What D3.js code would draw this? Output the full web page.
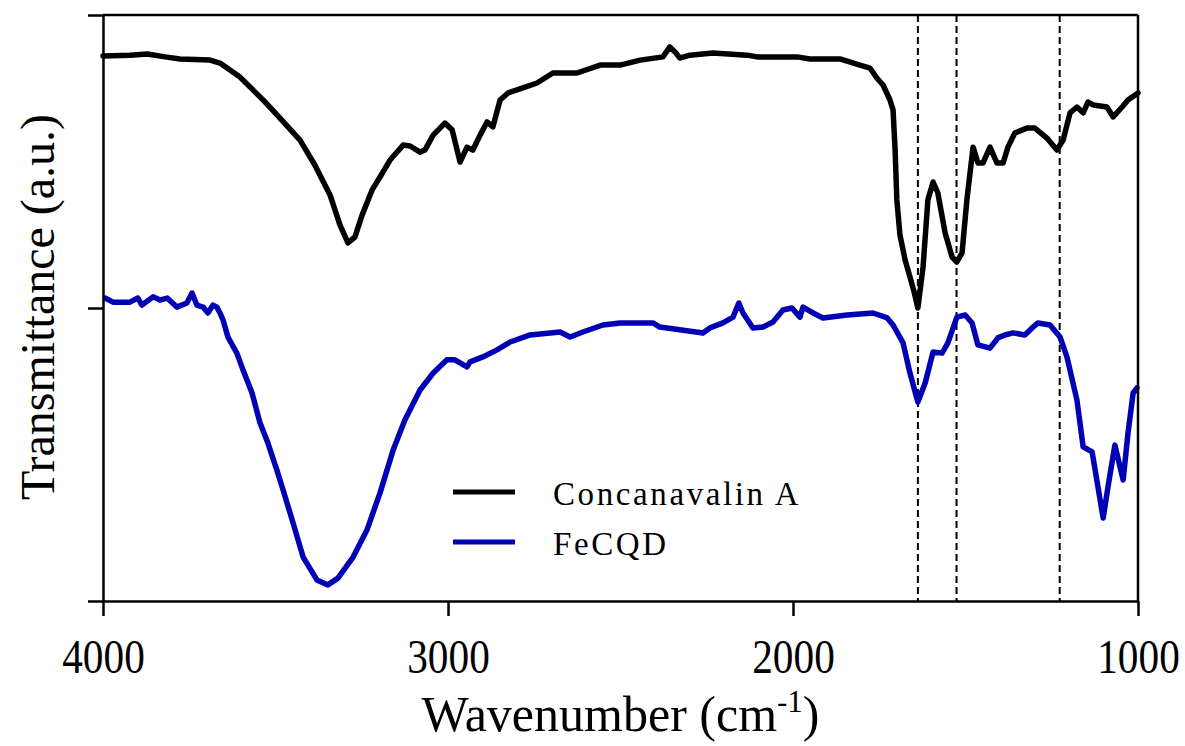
<!DOCTYPE html>
<html>
<head>
<meta charset="utf-8">
<script src="https://cdn.jsdelivr.net/npm/d3@7"></script>
<style>
  body { margin: 0; background: #fff; }
  text { font-family: "Liberation Serif", "Times New Roman", serif; fill: #000; }
</style>
</head>
<body>
<div id="chart"></div>
<script>
/********** Data **********/
// Concanavalin A (wavenumber, offset transmittance)
var conWn = [4000,3922,3872,3820,3777,3690,3661,3603,3536,3487,3429,3386,3342,3313,3290,3270,3249,3220,3197,3168,
  3130,3110,3081,3067,3043,3009,2988,2965,2945,2928,2907,2887,2870,2849,2826,2783,2742,2696,2626,2559,
  2501,2443,2377,2357,2342,2328,2299,2232,2133,2104,1988,1951,1864,1806,1777,1757,1739,1719,1710,1704,
  1699,1690,1675,1661,1649,1638,1623,1609,1594,1580,1559,1539,1525,1510,1496,1478,1464,1449,1429,1409,
  1391,1377,1357,1322,1299,1264,1235,1217,1197,1177,1159,1145,1130,1090,1072,1046,1029,1000]
var conT = [1.860,1.863,1.867,1.857,1.850,1.846,1.836,1.788,1.710,1.648,1.573,1.488,1.386,1.283,1.222,1.242,1.317,1.403,1.447,1.505,
  1.556,1.553,1.532,1.539,1.590,1.631,1.608,1.498,1.549,1.539,1.590,1.635,1.618,1.710,1.734,1.751,1.768,1.802,1.802,1.829,
  1.829,1.846,1.857,1.891,1.874,1.853,1.863,1.870,1.863,1.857,1.857,1.850,1.850,1.829,1.819,1.785,1.761,1.710,1.676,1.539,
  1.369,1.249,1.164,1.106,1.055,1.000,1.140,1.369,1.430,1.392,1.256,1.174,1.157,1.188,1.369,1.549,1.495,1.495,1.549,1.495,
  1.495,1.549,1.597,1.614,1.614,1.580,1.539,1.573,1.666,1.686,1.666,1.703,1.693,1.686,1.652,1.686,1.710,1.734]

// FeCQD
var feWn = [3994,3971,3922,3899,3887,3855,3835,3814,3786,3757,3742,3728,3710,3696,3681,3670,3661,3652,3638,3612,
  3594,3568,3545,3522,3496,3478,3449,3420,3380,3348,3319,3275,3235,3197,3159,3125,3081,3043,3003,2980,
  2945,2936,2899,2858,2820,2762,2675,2646,2609,2551,2501,2406,2386,2261,2241,2203,2174,2157,2145,2116,
  2087,2058,2029,2003,1980,1971,1942,1913,1843,1768,1727,1710,1681,1661,1638,1617,1594,1568,1551,1525,
  1501,1481,1464,1429,1406,1386,1362,1328,1307,1290,1255,1226,1206,1177,1159,1133,1116,1101,1087,1067,
  1043,1029,1014,1003]
var feT = [1.034,1.020,1.020,1.034,1.010,1.038,1.027,1.034,1.003,1.017,1.051,1.010,1.003,0.983,1.010,1.003,0.983,0.959,0.901,0.846,
  0.788,0.710,0.608,0.539,0.447,0.379,0.266,0.150,0.072,0.055,0.078,0.150,0.242,0.369,0.515,0.618,0.720,0.778,0.823,0.823,
  0.799,0.816,0.833,0.857,0.884,0.908,0.918,0.901,0.918,0.942,0.949,0.949,0.935,0.915,0.932,0.949,0.969,1.017,0.983,0.932,
  0.935,0.952,0.993,1.000,0.969,1.003,0.983,0.966,0.976,0.983,0.966,0.942,0.881,0.778,0.679,0.744,0.850,0.846,0.881,0.969,
  0.976,0.949,0.874,0.863,0.898,0.908,0.915,0.908,0.932,0.949,0.942,0.901,0.833,0.686,0.526,0.509,0.389,0.283,0.389,0.532,
  0.413,0.573,0.710,0.727]

var seriesNames = ["Concanavalin A", "FeCQD"]
var seriesColors = ["#000000", "#0000b4"]
var markLines = [1638, 1526, 1227]   // dashed reference lines
var xTicks = [4000, 3000, 2000, 1000]
var yTicks = [0, 1, 2]

/********** Chart **********/
var W = 1185, H = 746
var margin = {top: 15, right: 47, bottom: 145, left: 103},
    width = W - margin.left - margin.right,
    height = H - margin.top - margin.bottom

var svg = d3.select("#chart").append("svg")
    .attr("width", W)
    .attr("height", H)
  .append("g")
    .attr("transform", "translate(" + margin.left + "," + margin.top + ")")

var x = d3.scaleLinear().domain([4000, 1000]).range([0, width])
var y = d3.scaleLinear().domain([0, 2]).range([height, 0])

// dashed marker lines
svg.selectAll(".mark")
  .data(markLines)
  .enter().append("line")
    .attr("x1", function(d) { return x(d) })
    .attr("x2", function(d) { return x(d) })
    .attr("y1", 0)
    .attr("y2", height)
    .attr("stroke", "#000")
    .attr("stroke-width", 2)
    .attr("stroke-dasharray", "7,4")

// spectra
var line = d3.line()
  .x(function(d) { return x(d[0]) })
  .y(function(d) { return y(d[1]) })

var series = [d3.zip(conWn, conT), d3.zip(feWn, feT)]
series.forEach(function(s, i) {
  svg.append("path")
    .datum(s)
    .attr("fill", "none")
    .attr("stroke", seriesColors[i])
    .attr("stroke-width", 5.5)
    .attr("stroke-linejoin", "round")
    .attr("stroke-linecap", "round")
    .attr("d", line)
})

// axes
var xAxis = svg.append("g")
  .attr("transform", "translate(0," + height + ")")
  .call(d3.axisBottom(x).tickValues(xTicks).tickFormat(d3.format("d"))
    .tickSize(15).tickPadding(23).tickSizeOuter(0))
xAxis.selectAll("text")
  .style("font-size", "48px")
  .style("font-family", "'Liberation Serif', serif")
  .attr("transform", "scale(0.86,1)")   // narrow glyphs like the original

var yAxis = svg.append("g")
  .call(d3.axisLeft(y).tickValues(yTicks).tickSize(15).tickFormat("").tickSizeOuter(0))

svg.selectAll(".domain").attr("stroke-width", 2.5)
svg.selectAll(".tick line").attr("stroke-width", 2.5)

// top and right frame
svg.append("line").attr("x1", 0).attr("x2", width).attr("y1", 0).attr("y2", 0)
  .attr("stroke", "#000").attr("stroke-width", 2.5)
svg.append("line").attr("x1", width).attr("x2", width).attr("y1", 0).attr("y2", height)
  .attr("stroke", "#000").attr("stroke-width", 2.5)

// axis titles
var xTitle = svg.append("text")
  .attr("x", width / 2)
  .attr("y", height + 130)
  .attr("text-anchor", "middle")
  .style("font-size", "50px")
xTitle.append("tspan").text("Wavenumber (cm")
xTitle.append("tspan").attr("dy", -19).style("font-size", "31px").text("-1")
xTitle.append("tspan").attr("dy", 19).text(")")

svg.append("text")
  .attr("transform", "translate(-49," + (height / 2 - 1) + ") rotate(-90)")
  .attr("text-anchor", "middle")
  .style("font-size", "48px")
  .text("Transmittance (a.u.)")

// legend
var legend = svg.selectAll(".legend")
  .data(seriesNames)
  .enter().append("g")
    .attr("transform", function(d, i) { return "translate(350," + (477 + i * 50) + ")" })
legend.append("line")
  .attr("x1", 0).attr("x2", 62)
  .attr("stroke", function(d, i) { return seriesColors[i] })
  .attr("stroke-width", 5)
legend.append("text")
  .attr("x", 100)
  .attr("y", 13)
  .style("font-size", "33px")
  .style("letter-spacing", "2.6px")
  .text(function(d) { return d })
</script>
</body>
</html>
